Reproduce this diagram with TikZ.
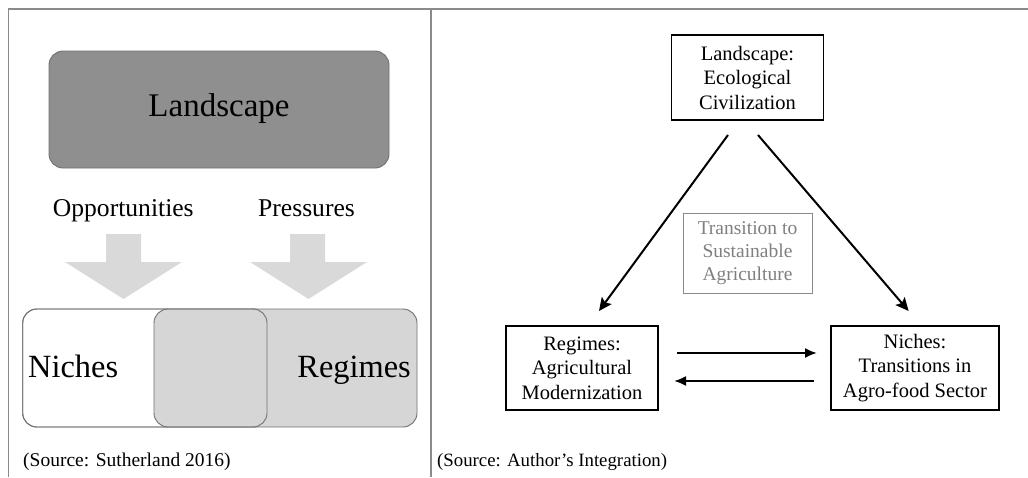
\documentclass[tikz,border=0pt]{standalone}
\usepackage{fontspec}
\setmainfont{Liberation Serif}
\usetikzlibrary{arrows.meta}
\definecolor{framegray}{HTML}{8A8A8A}
\definecolor{landgray}{HTML}{8F8F8F}
\definecolor{lightfill}{HTML}{D6D6D6}
\definecolor{blockarrow}{HTML}{D9D9D9}
\definecolor{edgegray}{HTML}{707070}
\definecolor{transgray}{HTML}{7F7F7F}
\begin{document}
\begin{tikzpicture}[x=1pt,y=-1pt,
  roundbox/.style={draw=edgegray, line width=0.9pt, rounded corners=14pt},
  sqbox/.style={draw=black, line width=1.5pt, align=center, inner sep=0pt,
    font=\fontsize{20.5}{24.5}\selectfont},
  conn/.style={line width=2pt, -{Stealth[length=13pt,width=12pt,inset=2.5pt]}},
  hconn/.style={line width=2pt, -{Latex[length=12pt,width=10pt]}},
  blk/.style={fill=blockarrow, draw=none},
  lbl/.style={anchor=base west, inner sep=0pt}
]
\useasboundingbox (0,0) rectangle (1028,477);
% frame
\draw[framegray, line width=1.5pt] (8.5,477) -- (8.5,9) -- (1028,9);
\draw[framegray, line width=1.5pt] (431,9) -- (431,477);

% ---------- left panel ----------
\draw[roundbox, fill=landgray] (49,51) rectangle (389,168);
\node[inner sep=0pt, font=\fontsize{33}{40}\selectfont] (land) at (219,109) {Landscape};

\node[lbl, font=\fontsize{25.6}{30}\selectfont] (opp) at (52.7,216) {Opportunities};
\node[lbl, font=\fontsize{25.6}{30}\selectfont] (pres) at (258,216) {Pressures};

\fill[blk] (106,234) -- (141,234) -- (141,262) -- (182,262) -- (123.5,299) -- (65,262) -- (106,262) -- cycle;
\fill[blk] (290,234) -- (325,234) -- (325,262) -- (367,262) -- (308.5,299) -- (250,262) -- (290,262) -- cycle;

\draw[roundbox, fill=white] (22.7,309) rectangle (267,427);
\draw[roundbox, fill=lightfill] (154,309) rectangle (417,427);
\draw[roundbox] (22.7,309) rectangle (267,427);
\node[lbl, font=\fontsize{32.4}{38}\selectfont] (niches) at (28,377) {Niches};
\node[anchor=base east, inner sep=0pt, font=\fontsize{32.4}{38}\selectfont] (regimes) at (411,377) {Regimes};

\node[lbl, font=\fontsize{19.5}{23}\selectfont] (src1) at (23,466) {(Source: Sutherland 2016)};

% ---------- right panel ----------
\node[sqbox, minimum width=152pt, minimum height=85pt] (L) at (747.5,77.5)
  {Landscape:\\Ecological\\Civilization};
\node[sqbox, draw=framegray, line width=1pt, text=transgray, minimum width=129pt, minimum height=80pt,
  font=\fontsize{19.5}{23}\selectfont] (T) at (747.5,253)
  {Transition to\\Sustainable\\Agriculture};
\node[sqbox, minimum width=152pt, minimum height=84pt] (R) at (582,368)
  {Regimes:\\Agricultural\\Modernization};
\node[sqbox, minimum width=168pt, minimum height=84pt] (N) at (915,368)
  {Niches:\\Transitions in\\Agro-food Sector};

\coordinate (la) at (728,135);
\coordinate (lb) at (758,135);
\coordinate (ra) at (599,311);
\coordinate (nb) at (908.6,311);
\draw[conn] (la) -- (ra);
\draw[conn] (lb) -- (nb);

\coordinate (h1s) at (677,353);
\coordinate (h1e) at (817,353);
\coordinate (h2s) at (814,381);
\coordinate (h2e) at (674,381);
\draw[hconn] (h1s) -- (h1e);
\draw[hconn] (h2s) -- (h2e);

\node[lbl, font=\fontsize{18.8}{22}\selectfont] (src2) at (437,466) {(Source: Author’s Integration)};
\end{tikzpicture}
\end{document}
